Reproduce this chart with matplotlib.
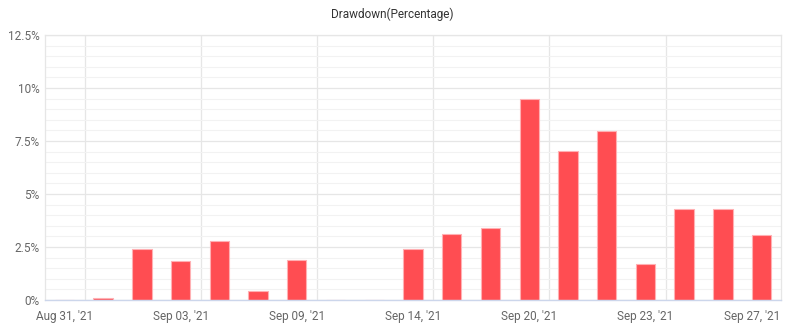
import matplotlib

matplotlib.use("Agg")

import matplotlib.pyplot as plt
import matplotlib.transforms as mtransforms
from matplotlib.ticker import FuncFormatter, MultipleLocator

# drawdown per category (percent)
drawdown_pct = [0.0, 0.08, 2.4, 1.83, 2.78, 0.41, 1.88, 0.0, 0.0, 2.4,
                3.11, 3.38, 9.49, 7.03, 7.95, 1.69, 4.28, 4.28, 3.07]
tick_positions = [0, 3, 6, 9, 12, 15, 18]
tick_labels = ["Aug 31, '21", "Sep 03, '21", "Sep 09, '21", "Sep 14, '21",
               "Sep 20, '21", "Sep 23, '21", "Sep 27, '21"]

plt.rcParams["font.family"] = ["Roboto", "DejaVu Sans"]

fig = plt.figure(figsize=(7.87, 3.29), dpi=100)
ax = fig.add_axes([45 / 787, 29 / 329, 736 / 787, 265 / 329])

x = list(range(len(drawdown_pct)))
ax.bar(x, drawdown_pct, width=0.5, color="#ff4d52", edgecolor="#ffb0b3",
       linewidth=0.8, zorder=3)

ax.set_xlim(-0.5, len(drawdown_pct) - 0.5)
ax.set_ylim(0, 12.5)

# horizontal grid: major every 2.5%, minor every 0.5%
ax.yaxis.set_major_locator(MultipleLocator(2.5))
ax.yaxis.set_minor_locator(MultipleLocator(0.5))
ax.grid(axis="y", which="major", color="#e6e6e6", linewidth=0.9, zorder=0)
ax.grid(axis="y", which="minor", color="#f2f2f2", linewidth=0.8, zorder=0)

# vertical grid lines between date groups
for gx in [0.52, 3.52, 6.52, 9.52, 12.52, 15.52]:
    ax.axvline(gx, color="#e6e6e6", linewidth=0.9, zorder=0)

ax.yaxis.set_major_formatter(FuncFormatter(lambda v, _: f"{v:g}%"))
ax.set_xticks(tick_positions)
ax.set_xticklabels(tick_labels)

ax.tick_params(axis="both", which="both", length=0, colors="#666666", labelsize=8.5)
ax.tick_params(axis="x", pad=7)
ax.tick_params(axis="y", pad=4)

# keep the last date label inside the chart, like the original
last = ax.get_xticklabels()[-1]
last.set_horizontalalignment("right")
last.set_transform(last.get_transform() + mtransforms.ScaledTranslation(19 / 100, 0, fig.dpi_scale_trans))

for side in ["top", "left", "right"]:
    ax.spines[side].set_color("#e6e6e6")
    ax.spines[side].set_linewidth(0.9)
ax.spines["bottom"].set_color("#ccd6eb")
ax.spines["bottom"].set_linewidth(1.0)
ax.spines["bottom"].set_zorder(4)

fig.text(392 / 787, 1 - 14 / 329, "Drawdown(Percentage)", ha="center", va="center",
         fontsize=8.5, color="#333333")

fig.savefig("out.png", dpi=100)
